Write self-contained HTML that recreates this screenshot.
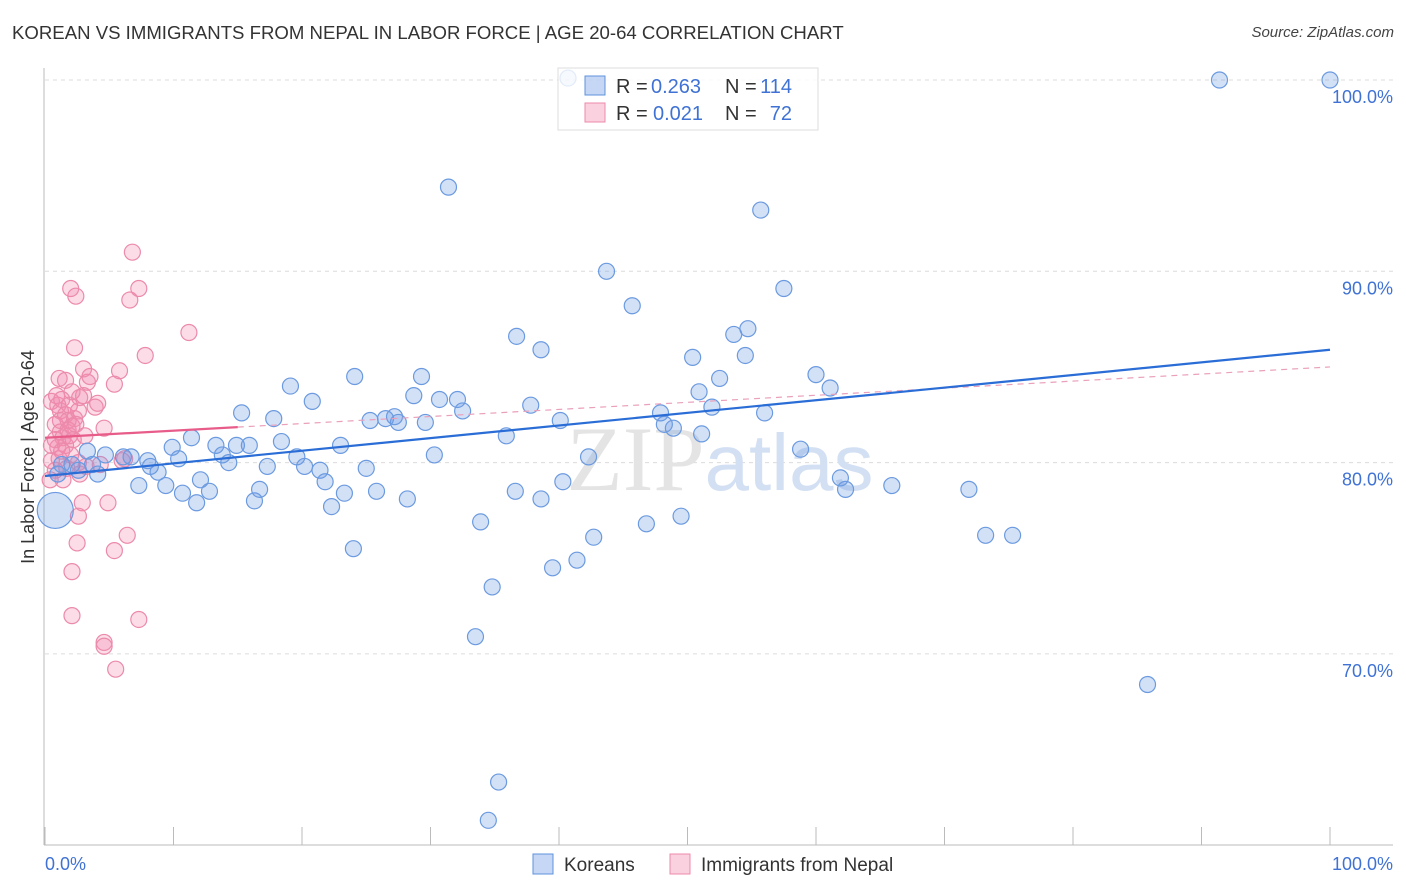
<!DOCTYPE html>
<html><head><meta charset="utf-8">
<style>
body{margin:0;background:#fff;font-family:"Liberation Sans",sans-serif;}
#wrap{position:relative;width:1406px;height:892px;overflow:hidden;}
.title{position:absolute;left:12px;top:22px;font-size:18.6px;color:#333;}
.src{position:absolute;right:12px;top:24px;font-size:15px;color:#444;font-style:italic;}
</style></head>
<body>
<div id="wrap">
<div class="title">KOREAN VS IMMIGRANTS FROM NEPAL IN LABOR FORCE | AGE 20-64 CORRELATION CHART</div>
<div class="src">Source: ZipAtlas.com</div>
<svg id="svg" width="1406" height="892" style="position:absolute;left:0;top:0"></svg>
</div>
<script>
const blueX=[40.7,91.4,100,31.4,55.7,43.7,57.5,45.7,36.7,53.6,54.7,38.6,50.4,54.5,19.1,24.1,29.3,52.5,60.0,61.1,50.9,28.7,20.8,30.7,32.1,32.5,37.8,15.3,17.8,25.3,26.5,27.2,27.5,29.6,40.1,47.9,51.9,56.0,48.2,48.9,51.1,35.9,11.4,13.3,14.9,15.9,18.4,23.0,30.3,42.3,58.8,3.3,4.7,6.1,6.7,8.0,9.9,10.4,13.8,14.3,19.6,20.2,21.4,25.0,17.3,8.2,8.8,1.3,2.1,3.7,4.1,1.0,2.6,9.4,7.3,10.7,12.1,12.8,11.8,16.3,16.7,21.8,23.3,25.8,28.2,22.3,36.6,38.6,40.3,61.9,62.3,65.9,71.9,33.9,46.8,49.5,42.7,73.2,75.3,24.0,41.4,39.5,34.8,33.5,85.8,35.3,34.5];
const blueY=[100.1,100.0,100.0,94.4,93.2,90.0,89.1,88.2,86.6,86.7,87.0,85.9,85.5,85.6,84.0,84.5,84.5,84.4,84.6,83.9,83.7,83.5,83.2,83.3,83.3,82.7,83.0,82.6,82.3,82.2,82.3,82.4,82.1,82.1,82.2,82.6,82.9,82.6,82.0,81.8,81.5,81.4,81.3,80.9,80.9,80.9,81.1,80.9,80.4,80.3,80.7,80.6,80.4,80.3,80.3,80.1,80.8,80.2,80.4,80.0,80.3,79.8,79.6,79.7,79.8,79.8,79.5,79.9,79.9,79.9,79.4,79.4,79.6,78.8,78.8,78.4,79.1,78.5,77.9,78.0,78.6,79.0,78.4,78.5,78.1,77.7,78.5,78.1,79.0,79.2,78.6,78.8,78.6,76.9,76.8,77.2,76.1,76.2,76.2,75.5,74.9,74.5,73.5,70.9,68.4,63.3,61.3];
const pinkX=[0.5,1.0,1.2,1.6,1.8,0.8,1.2,1.4,1.6,1.9,2.1,2.3,2.6,2.7,3.0,3.3,3.9,4.1,4.6,1.1,1.6,2.1,2.3,3.0,3.5,5.8,5.4,2.0,2.4,6.8,7.3,6.6,7.8,11.2,0.5,0.8,1.1,1.7,1.4,2.0,2.6,3.2,4.3,6.0,6.2,2.9,4.9,2.6,2.5,2.1,6.4,5.4,2.1,7.3,4.6,4.6,5.5,0.8,1.0,1.3,0.5,0.9,1.2,1.8,2.2,0.4,2.7,1.3,1.9,2.4,3.1];
const pinkY=[83.2,83.0,82.7,82.5,82.2,82.0,81.6,81.3,80.9,81.4,81.9,82.3,82.7,83.4,83.5,84.2,82.9,83.1,81.8,84.4,84.3,83.7,86.0,84.9,84.5,84.8,84.1,89.1,88.7,91.0,89.1,88.5,85.6,86.8,80.1,79.6,80.2,79.7,79.1,80.4,80.0,79.8,79.9,80.1,80.2,77.9,77.9,77.2,75.8,74.3,76.2,75.4,72.0,71.8,70.6,70.4,69.2,81.2,80.8,80.6,80.9,83.5,82.2,81.7,81.2,79.1,79.4,83.3,83.0,82.0,81.4];
const yTicks=[100,90,80,70];
const yTickLabels=["100.0%","90.0%","80.0%","70.0%"];
const blueTrend=[79.3,85.9];
const pinkTrend=[81.3,85.0];
const pinkSolidEnd=15;

const NS="http://www.w3.org/2000/svg";
const svg=document.getElementById('svg');
const X=v=>45+v*12.85;
const Y=v=>80+(100-v)*19.13;
function el(t,a,p){const e=document.createElementNS(NS,t);for(const k in a)e.setAttribute(k,a[k]);(p||svg).appendChild(e);return e;}

yTicks.forEach((t,i)=>{
 const g=el('line',{x1:45,x2:1393,y1:Y(t),y2:Y(t),stroke:'#dcdcdc','stroke-dasharray':'4,4'});
 
 
 const tx=el('text',{x:1393,y:Y(t)+23,'text-anchor':'end','font-size':18,fill:'#3f72d4'});
 tx.textContent=yTickLabels[i];
 
 
});
const ya=el('line',{x1:44,x2:44,y1:68,y2:845,stroke:'#bbb'});


const xa=el('line',{x1:44,x2:1393,y1:845,y2:845,stroke:'#bbb'});


for(let i=0;i<=10;i++){
 const tk=el('line',{x1:X(i*10),x2:X(i*10),y1:827,y2:845,stroke:'#bbb'});
 
 
}
const xl0=el('text',{x:45,y:870,'font-size':18,fill:'#3f72d4'});xl0.textContent='0.0%';


const xl1=el('text',{x:1393,y:870,'text-anchor':'end','font-size':18,fill:'#3f72d4'});xl1.textContent='100.0%';


const yt=el('text',{x:34,y:457,'text-anchor':'middle','font-size':18,fill:'#333',transform:'rotate(-90 34 457)'});yt.textContent='In Labor Force | Age 20-64';


const wm=el('text',{x:720,y:490,'text-anchor':'middle','font-size':92,fill:'#e4e4e4','font-family':'Liberation Serif'});
wm.innerHTML='ZIP<tspan font-family="Liberation Sans" fill="#d3e0f3" font-size="80">atlas</tspan>';



pinkX.forEach((x,i)=>{
 const c=el('circle',{cx:X(x),cy:Y(pinkY[i]),r:8,fill:'rgba(242,140,175,0.3)',stroke:'#ec8aab','stroke-width':1.2});
 
 
});
blueX.forEach((x,i)=>{
 const c=el('circle',{cx:X(x),cy:Y(blueY[i]),r:8,fill:'rgba(110,155,230,0.3)',stroke:'#6b9ae0','stroke-width':1.2});
 
 
});
const big=el('circle',{cx:X(0.8),cy:Y(77.5),r:18,fill:'rgba(110,155,230,0.3)',stroke:'#6b9ae0','stroke-width':1.2});



const pt=x=>pinkTrend[0]+(pinkTrend[1]-pinkTrend[0])*x/100;
const pd=el('line',{x1:X(pinkSolidEnd),y1:Y(pt(pinkSolidEnd)),x2:X(100),y2:Y(pinkTrend[1]),stroke:'#eaa0bb','stroke-width':1.2,'stroke-dasharray':'6,5'});


const ps=el('line',{x1:X(0),y1:Y(pinkTrend[0]),x2:X(pinkSolidEnd),y2:Y(pt(pinkSolidEnd)),stroke:'#e85c8a','stroke-width':2.2});


const bt=el('line',{x1:X(0),y1:Y(blueTrend[0]),x2:X(100),y2:Y(blueTrend[1]),stroke:'#2a6dd6','stroke-width':2.2});



const lg=el('g',{});


el('rect',{x:558,y:68,width:260,height:62,fill:'rgba(255,255,255,0.8)',stroke:'#ddd'},lg);
el('rect',{x:585,y:76,width:20,height:19,fill:'rgba(110,155,230,0.4)',stroke:'#5f92dc'},lg);
el('rect',{x:585,y:103,width:20,height:19,fill:'rgba(242,140,175,0.4)',stroke:'#ec8aab'},lg);
function lt(x,y,s,c,anchor){const t=el('text',{x:x,y:y,'font-size':20,fill:c,'text-anchor':anchor||'start'},lg);t.textContent=s;return t;}
lt(616,93,'R =','#333');lt(651,93,'0.263','#3f72d4');lt(725,93,'N =','#333');lt(792,93,'114','#3f72d4','end');
lt(616,120,'R =','#333');lt(653,120,'0.021','#3f72d4');lt(725,120,'N =','#333');lt(792,120,'72','#3f72d4','end');

const bl=el('g',{});


el('rect',{x:533,y:854,width:20,height:20,fill:'rgba(110,155,230,0.4)',stroke:'#5f92dc'},bl);
const b1=el('text',{x:564,y:871,'font-size':19,fill:'#333'},bl);b1.textContent='Koreans';
el('rect',{x:670,y:854,width:20,height:20,fill:'rgba(242,140,175,0.4)',stroke:'#ec8aab'},bl);
const b2=el('text',{x:701,y:871,'font-size':19,fill:'#333'},bl);b2.textContent='Immigrants from Nepal';
</script>
</body></html>
